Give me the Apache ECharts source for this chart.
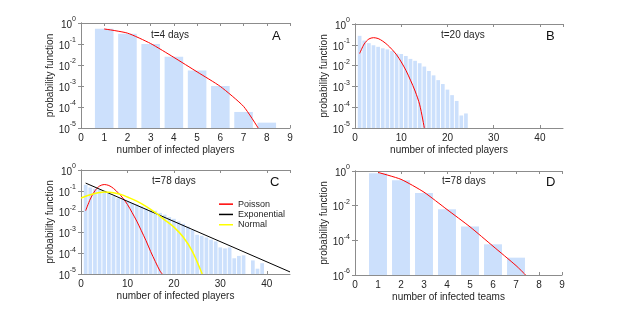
<!DOCTYPE html>
<html><head><meta charset="utf-8">
<script src="https://cdn.jsdelivr.net/npm/echarts@6/dist/echarts.min.js"></script>
<style>html,body{margin:0;padding:0;background:#fff}#c{width:624px;height:310px}</style>
</head><body><div id="c"></div>
<script>
// ---------- data ----------
// Panel A
const catsA = [1, 2, 3, 4, 5, 6, 7, 8];
const barsA = [0.53, 0.31, 0.10, 0.025, 0.0054, 0.001, 5.8e-5, 1.8e-5];
const fitAx = [1, 2, 3, 4, 5, 6, 7, 7.63];
const fitAy = [0.52, 0.33, 0.105, 0.023, 0.0047, 9.5e-4, 1.07e-4, 1e-5];
// Panel B
const catsB = [1,2,3,4,5,6,7,8,9,10,11,12,13,14,15,16,17,18,19,20,21,22,23,24];
const barsB = [0.27,0.16,0.12,0.095,0.08,0.068,0.06,0.05,0.038,0.036,0.029,0.021,0.017,0.013,0.009,0.0055,0.0034,0.002,0.0013,7e-4,3.8e-4,2e-4,4e-5,5e-5];
const fitBx = [1,2,3,4,5,6,7,8,9,10,11,12,13,14,15];
const fitBy = [0.038,0.11,0.19,0.22,0.2,0.15,0.1,0.06,0.033,0.015,0.006,0.002,6e-4,1.3e-4,1e-5];
// Panel C
const catsC = [1,2,3,4,5,6,7,8,9,10,11,12,13,14,15,16,17,18,19,20,21,22,23,24,25,26,27,28,29,30,31,32,33,34,35,37,38,39];
const barsC = [0.195,0.145,0.125,0.116,0.1,0.087,0.055,0.044,0.038,0.032,0.026,0.022,0.018,0.0145,0.012,0.011,0.0087,0.0071,0.0055,0.0045,0.0034,0.0026,0.0019,0.0013,7.7e-4,6.9e-4,5.7e-4,4.5e-4,3.7e-4,1.9e-4,1.7e-4,1.9e-4,5.7e-5,7.4e-5,7.9e-5,4.5e-5,1.8e-5,3.3e-5];
const poisCx = [1,2,3,4,5,6,7,8,9,10,11,12,13,14,15,16,17,17.5];
const poisCy = [0.011,0.04,0.1,0.17,0.2,0.18,0.13,0.08,0.045,0.022,0.009,0.0035,0.0012,4e-4,1.2e-4,4e-5,1.4e-5,1e-5];
const expCx = [1, 45];
const expCy = [0.235, 1.26e-5];
const normCx = [0,1,2,3,4,5,6,7,8,9,10,12,14,16,18,20,22,24,26.1];
const normCy = [0.045,0.055,0.065,0.075,0.082,0.087,0.085,0.08,0.072,0.062,0.05,0.032,0.018,0.009,0.004,0.0018,6e-4,1.2e-4,1e-5];
// Panel D
const catsD = [1, 2, 3, 4, 5, 6, 7];
const barsD = [0.73, 0.29, 0.053, 0.0063, 6.3e-4, 5.9e-5, 1e-5];
const fitDx = [1, 2, 3, 4, 5, 6, 7, 7.42];
const fitDy = [0.83, 0.33, 0.06, 0.006, 6e-4, 4.6e-5, 3.5e-6, 1e-6];
// tick labels
const xTicksA = [0, 9, 1];      // min, max, step
const xTicksB = [0, 45, 10];
const yExpABC = [-5, 0, 1];     // exponent min, max, step
const yExpD = [-6, 0, 2];
const xNameA = 'number of infected players';
const xNameD = 'number of infected teams';
const yName = 'probability function';
const panelTitles = ['t=4 days', 't=20 days', 't=78 days', 't=78 days'];
const panelLetters = ['A', 'B', 'C', 'D'];
const legendNames = ['Poisson', 'Exponential', 'Normal'];

// ---------- style ----------
const FONT = '"Liberation Sans", Arial, Helvetica, sans-serif';
const BAR = '#cce0fc';
const AXIS = '#8c8c8c';
const TXT = '#262626';

const zip = (xs, ys) => xs.map((x, i) => [x, ys[i]]);

const grids = [
  {left: 81, top: 23, width: 209, height: 105},
  {left: 355, top: 24, width: 208, height: 104},
  {left: 81, top: 170, width: 209, height: 104},
  {left: 355, top: 171, width: 207, height: 104}
];

const richLabel = {
  b: {fontSize: 10, fontFamily: FONT, color: TXT, lineHeight: 14, verticalAlign: 'bottom'},
  s: {fontSize: 7, fontFamily: FONT, color: TXT, lineHeight: 14, verticalAlign: 'top'}
};
function expFmt(v) {
  const e = Math.round(Math.log10(v));
  return '{b|10}{s|' + (e === 0 ? '0' : String(e)) + '}';
}

const xAxes = [], yAxes = [];
const xt = [xTicksA, xTicksB, xTicksB, xTicksA];
const yt = [yExpABC, yExpABC, yExpABC, yExpD];
const xn = [xNameA, xNameA, xNameA, xNameD];
for (let g = 0; g < 4; g++) {
  const [xmin, xmax, xstep] = xt[g];
  xAxes.push({
    gridIndex: g, type: 'value', position: 'bottom', min: xmin, max: xmax, interval: xstep,
    axisLine: {show: true, lineStyle: {color: AXIS, width: 1}},
    axisTick: {show: true, inside: true, length: 3, lineStyle: {color: AXIS}},
    axisLabel: {fontSize: 10, fontFamily: FONT, color: TXT, margin: 5, showMaxLabel: xmax % xstep === 0},
    splitLine: {show: false},
    name: xn[g], nameLocation: 'middle', nameGap: 17,
    nameTextStyle: {fontSize: 10, fontFamily: FONT, color: TXT, padding: [0, 20, 0, 0]}
  });
  xAxes.push({
    gridIndex: g, type: 'value', position: 'top', min: xmin, max: xmax, interval: xstep,
    axisLine: {show: true, lineStyle: {color: AXIS, width: 1}},
    axisTick: {show: true, inside: true, length: 3, lineStyle: {color: AXIS}},
    axisLabel: {show: false}, splitLine: {show: false}
  });
  const [emin, emax, estep] = yt[g];
  yAxes.push({
    gridIndex: g, type: 'log', logBase: 10, position: 'left',
    min: Math.pow(10, emin), max: Math.pow(10, emax), interval: estep,
    axisLine: {show: true, lineStyle: {color: AXIS, width: 1}},
    axisTick: {show: true, inside: true, length: 3, lineStyle: {color: AXIS}},
    axisLabel: {formatter: expFmt, rich: richLabel, margin: 5},
    splitLine: {show: false}, minorTick: {show: false},
    name: yName, nameLocation: 'middle', nameGap: 25,
    nameTextStyle: {fontSize: 10, fontFamily: FONT, color: TXT}
  });
  yAxes.push({
    gridIndex: g, type: 'log', logBase: 10, position: 'right',
    min: Math.pow(10, emin), max: Math.pow(10, emax), interval: estep,
    axisLine: {show: true, lineStyle: {color: AXIS, width: 1}},
    axisTick: {show: true, inside: true, length: 3, lineStyle: {color: AXIS}},
    axisLabel: {show: false}, splitLine: {show: false}
  });
}

function barSeries(g, cats, vals, widthUnits, baseVal) {
  return {
    type: 'custom', coordinateSystem: 'cartesian2d',
    xAxisIndex: 2 * g, yAxisIndex: 2 * g,
    encode: {x: 0, y: 1},
    data: zip(cats, vals),
    silent: true, z: 1,
    renderItem: function (params, api) {
      const x = api.value(0), v = api.value(1);
      const p1 = api.coord([x - widthUnits / 2, v]);
      const p0 = api.coord([x + widthUnits / 2, baseVal]);
      return {type: 'rect', shape: {x: p1[0], y: p1[1], width: p0[0] - p1[0], height: p0[1] - p1[1]},
              style: {fill: BAR}};
    }
  };
}
function lineSeries(g, name, xs, ys, color, width, smooth) {
  return {
    type: 'line', name: name, xAxisIndex: 2 * g, yAxisIndex: 2 * g,
    data: zip(xs, ys), showSymbol: false, symbol: 'none', smooth: smooth,
    lineStyle: {color: color, width: width}, itemStyle: {color: color}, z: 3, clip: true
  };
}

const series = [
  barSeries(0, catsA, barsA, 0.8, 1e-5),
  lineSeries(0, 'fitA', fitAx, fitAy, '#ff0000', 1, 0.2),
  barSeries(1, catsB, barsB, 0.8, 1e-5),
  lineSeries(1, 'fitB', fitBx, fitBy, '#ff0000', 1, 0.3),
  barSeries(2, catsC, barsC, 0.8, 1e-5),
  lineSeries(2, legendNames[0], poisCx, poisCy, '#ff0000', 1, 0.3),
  lineSeries(2, legendNames[1], expCx, expCy, '#000000', 1, false),
  lineSeries(2, legendNames[2], normCx, normCy, '#ffff00', 1.5, 0.3),
  barSeries(3, catsD, barsD, 0.78, 1e-6),
  lineSeries(3, 'fitD', fitDx, fitDy, '#ff0000', 1, 0.2)
];

const titlePos = [[151, 35], [441, 35], [152, 181], [442, 181]];
const letterPos = [[272, 36], [546, 36], [270, 182], [546, 182]];
const graphic = [];
for (let i = 0; i < 4; i++) {
  graphic.push({type: 'text', x: titlePos[i][0], y: titlePos[i][1],
    style: {text: panelTitles[i], fontSize: 10, fontFamily: FONT, fill: TXT, align: 'left', verticalAlign: 'middle'}});
  graphic.push({type: 'text', x: letterPos[i][0], y: letterPos[i][1],
    style: {text: panelLetters[i], fontSize: 13, fontFamily: FONT, fill: '#111', align: 'left', verticalAlign: 'middle'}});
}

const chart = echarts.init(document.getElementById('c'), null, {renderer: 'canvas'});
chart.setOption({
  animation: false,
  backgroundColor: '#ffffff',
  grid: grids,
  xAxis: xAxes,
  yAxis: yAxes,
  series: series,
  graphic: graphic,
  legend: {
    data: legendNames.map(n => ({name: n, icon: 'rect'})),
    orient: 'vertical', left: 219, top: 199,
    itemWidth: 14, itemHeight: 1.5, itemGap: 0,
    textStyle: {fontSize: 9, fontFamily: FONT, color: TXT, lineHeight: 10.3},
    padding: 0
  }
});
</script>
</body></html>
